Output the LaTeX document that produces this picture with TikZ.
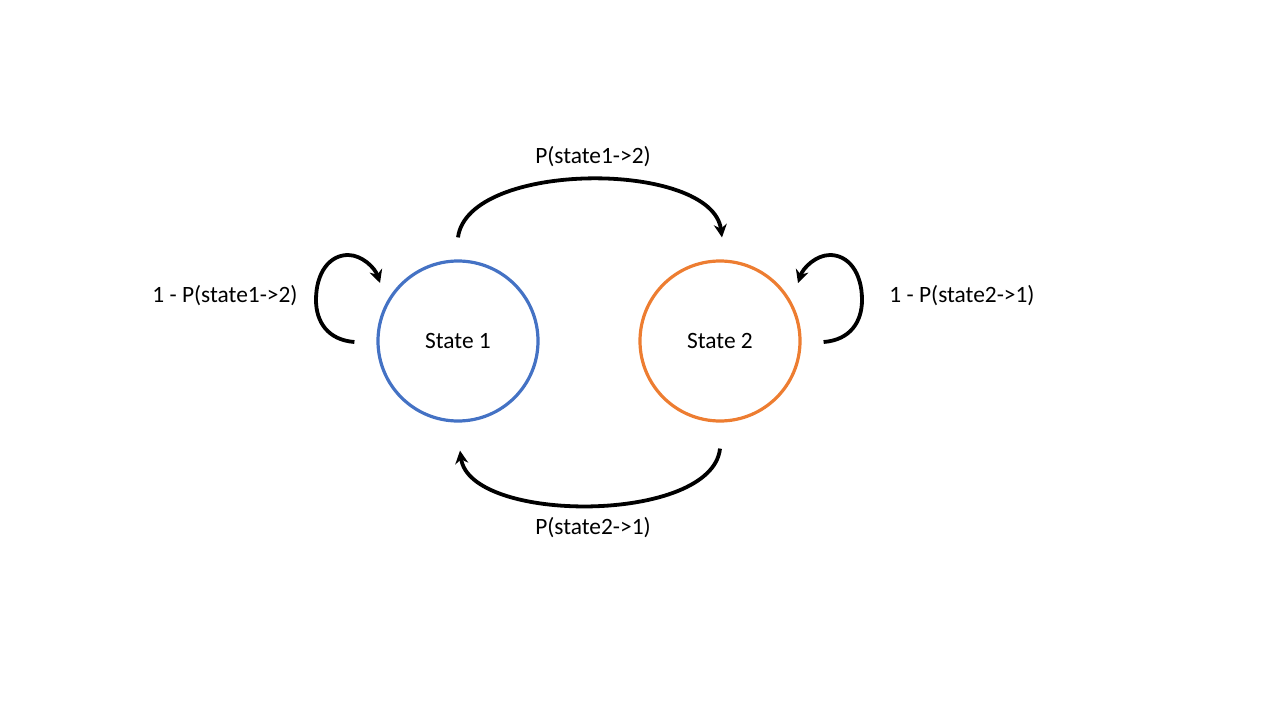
\documentclass[tikz,border=0pt]{standalone}
\usepackage{fontspec}
\setmainfont{Carlito}
\usepackage{tikz}
\usetikzlibrary{arrows.meta}
\usetikzlibrary{calc}
\definecolor{stateblue}{RGB}{68,114,196}
\definecolor{stateorange}{RGB}{237,125,49}

\tikzset{
  chainstate/.style={circle,line width=1.6pt,minimum size=80pt,inner sep=0pt},
  transarrow/.style={line width=1.9pt,-{Stealth[length=6.5pt,width=6.5pt]}},
  problabel/.style={font=\fontsize{11.7}{14}\selectfont}
}

\begin{document}
\begin{tikzpicture}[x=0.5pt,y=0.5pt]
    \useasboundingbox (0,0) rectangle (1280,720);
    % the two states
    \node[chainstate,draw=stateblue,problabel] (s1) at (458,379) {State 1};
    \node[chainstate,draw=stateorange,problabel] (s2) at (720,379) {State 2};
    % end points of the connectors, a little off the circles
    \coordinate (s1top) at ($(s1.north)+(0,22)$);
    \coordinate (s2top) at ($(s2.north)+(2,22)$);
    \coordinate (s2bot) at ($(s2.south)+(0,-26)$);
    \coordinate (s1bot) at ($(s1.south)+(2,-28)$);
    \coordinate (s1out) at ($(s1.west)+(-22,-1)$);
    \coordinate (s1in) at ($(s1)+(-78,58)$);
    \coordinate (s2out) at ($(s2.east)+(22,-1)$);
    \coordinate (s2in) at ($(s2)+(78,58)$);
    % transitions between the states
    \draw[transarrow] (s1top) .. controls (468,560) and (712,560) .. (s2top);
    \draw[transarrow] (s2bot) .. controls (712,196) and (470,196) .. (s1bot);
    % self loops
    \draw[transarrow] (s1out) .. controls (328,380) and (316,398) .. (316,420)
      .. controls (316,448) and (330,465) .. (348,465)
      .. controls (362,465) and (375,452) .. (s1in);
    \draw[transarrow] (s2out) .. controls (850,380) and (862,398) .. (862,420)
      .. controls (862,448) and (848,465) .. (830,465)
      .. controls (816,465) and (803,452) .. (s2in);
    % probabilities
    \node[problabel] (p12) at (593,563) {P(state1->2)};
    \node[problabel] (p21) at (593,192) {P(state2->1)};
    \node[problabel] (p11) at (225,424) {1 - P(state1->2)};
    \node[problabel] (p22) at (962,424) {1 - P(state2->1)};
\end{tikzpicture}
\end{document}
